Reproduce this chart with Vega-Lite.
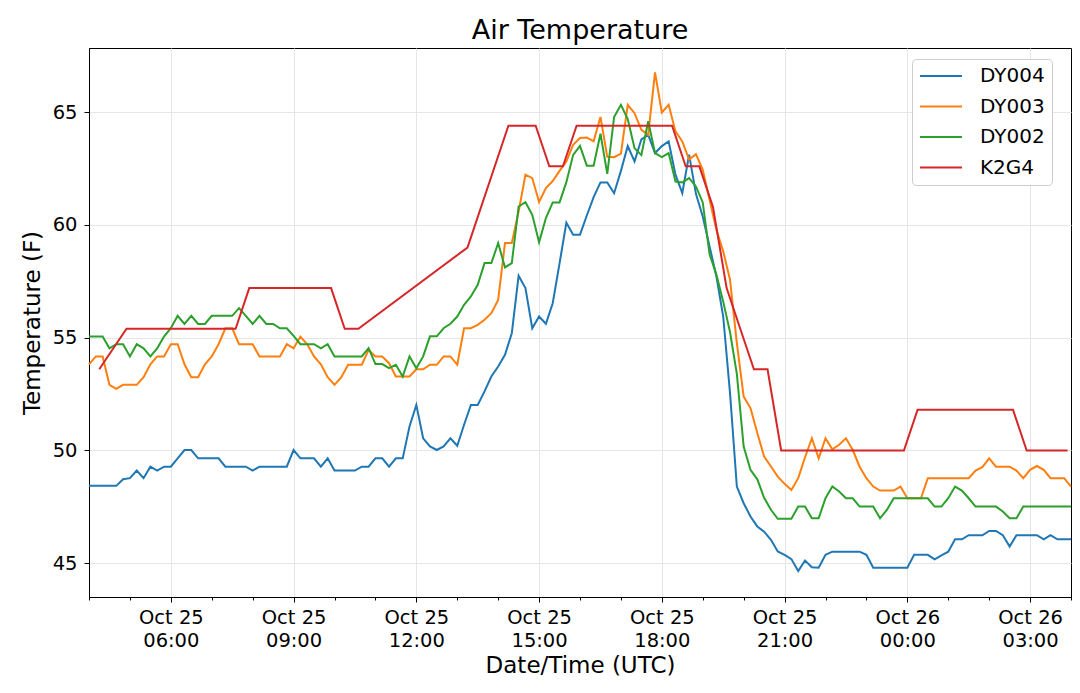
{
  "$schema": "https://vega.github.io/schema/vega-lite/v6.json",
  "width": 982,
  "height": 549,
  "autosize": {"type": "none"},
  "padding": {"left": 89, "top": 48, "right": 9, "bottom": 96},
  "background": "white",
  "title": {
    "text": "Air Temperature",
    "font": "DejaVu Sans",
    "fontSize": 27,
    "fontWeight": "normal",
    "color": "black",
    "anchor": "middle",
    "offset": 3
  },
  "config": {
    "view": {"stroke": "black", "strokeWidth": 1},
    "font": "DejaVu Sans",
    "axis": {
      "labelFont": "DejaVu Sans",
      "titleFont": "DejaVu Sans",
      "labelColor": "black",
      "titleColor": "black",
      "titleFontWeight": "normal",
      "domainColor": "black",
      "tickColor": "black",
      "gridColor": "#e6e6e6",
      "gridWidth": 1
    }
  },
  "data": {
    "values": [
      {"s": "DY004", "t": "2019-10-25T04:00:00Z", "v": 48.43},
      {"s": "DY004", "t": "2019-10-25T04:10:00Z", "v": 48.43},
      {"s": "DY004", "t": "2019-10-25T04:20:00Z", "v": 48.43},
      {"s": "DY004", "t": "2019-10-25T04:30:00Z", "v": 48.43},
      {"s": "DY004", "t": "2019-10-25T04:40:00Z", "v": 48.43},
      {"s": "DY004", "t": "2019-10-25T04:50:00Z", "v": 48.72},
      {"s": "DY004", "t": "2019-10-25T05:00:00Z", "v": 48.77},
      {"s": "DY004", "t": "2019-10-25T05:10:00Z", "v": 49.11},
      {"s": "DY004", "t": "2019-10-25T05:20:00Z", "v": 48.77},
      {"s": "DY004", "t": "2019-10-25T05:30:00Z", "v": 49.28},
      {"s": "DY004", "t": "2019-10-25T05:40:00Z", "v": 49.11},
      {"s": "DY004", "t": "2019-10-25T05:50:00Z", "v": 49.28},
      {"s": "DY004", "t": "2019-10-25T06:00:00Z", "v": 49.28},
      {"s": "DY004", "t": "2019-10-25T06:10:00Z", "v": 49.65},
      {"s": "DY004", "t": "2019-10-25T06:20:00Z", "v": 50.02},
      {"s": "DY004", "t": "2019-10-25T06:30:00Z", "v": 50.02},
      {"s": "DY004", "t": "2019-10-25T06:40:00Z", "v": 49.65},
      {"s": "DY004", "t": "2019-10-25T06:50:00Z", "v": 49.65},
      {"s": "DY004", "t": "2019-10-25T07:00:00Z", "v": 49.65},
      {"s": "DY004", "t": "2019-10-25T07:10:00Z", "v": 49.65},
      {"s": "DY004", "t": "2019-10-25T07:20:00Z", "v": 49.28},
      {"s": "DY004", "t": "2019-10-25T07:30:00Z", "v": 49.28},
      {"s": "DY004", "t": "2019-10-25T07:40:00Z", "v": 49.28},
      {"s": "DY004", "t": "2019-10-25T07:50:00Z", "v": 49.28},
      {"s": "DY004", "t": "2019-10-25T08:00:00Z", "v": 49.11},
      {"s": "DY004", "t": "2019-10-25T08:10:00Z", "v": 49.28},
      {"s": "DY004", "t": "2019-10-25T08:20:00Z", "v": 49.28},
      {"s": "DY004", "t": "2019-10-25T08:30:00Z", "v": 49.28},
      {"s": "DY004", "t": "2019-10-25T08:40:00Z", "v": 49.28},
      {"s": "DY004", "t": "2019-10-25T08:50:00Z", "v": 49.28},
      {"s": "DY004", "t": "2019-10-25T09:00:00Z", "v": 50.02},
      {"s": "DY004", "t": "2019-10-25T09:10:00Z", "v": 49.65},
      {"s": "DY004", "t": "2019-10-25T09:20:00Z", "v": 49.65},
      {"s": "DY004", "t": "2019-10-25T09:30:00Z", "v": 49.65},
      {"s": "DY004", "t": "2019-10-25T09:40:00Z", "v": 49.28},
      {"s": "DY004", "t": "2019-10-25T09:50:00Z", "v": 49.65},
      {"s": "DY004", "t": "2019-10-25T10:00:00Z", "v": 49.11},
      {"s": "DY004", "t": "2019-10-25T10:10:00Z", "v": 49.11},
      {"s": "DY004", "t": "2019-10-25T10:20:00Z", "v": 49.11},
      {"s": "DY004", "t": "2019-10-25T10:30:00Z", "v": 49.11},
      {"s": "DY004", "t": "2019-10-25T10:40:00Z", "v": 49.28},
      {"s": "DY004", "t": "2019-10-25T10:50:00Z", "v": 49.28},
      {"s": "DY004", "t": "2019-10-25T11:00:00Z", "v": 49.65},
      {"s": "DY004", "t": "2019-10-25T11:10:00Z", "v": 49.65},
      {"s": "DY004", "t": "2019-10-25T11:20:00Z", "v": 49.28},
      {"s": "DY004", "t": "2019-10-25T11:30:00Z", "v": 49.65},
      {"s": "DY004", "t": "2019-10-25T11:40:00Z", "v": 49.65},
      {"s": "DY004", "t": "2019-10-25T11:50:00Z", "v": 51.06},
      {"s": "DY004", "t": "2019-10-25T12:00:00Z", "v": 52.02},
      {"s": "DY004", "t": "2019-10-25T12:10:00Z", "v": 50.54},
      {"s": "DY004", "t": "2019-10-25T12:20:00Z", "v": 50.18},
      {"s": "DY004", "t": "2019-10-25T12:30:00Z", "v": 50.02},
      {"s": "DY004", "t": "2019-10-25T12:40:00Z", "v": 50.18},
      {"s": "DY004", "t": "2019-10-25T12:50:00Z", "v": 50.54},
      {"s": "DY004", "t": "2019-10-25T13:00:00Z", "v": 50.21},
      {"s": "DY004", "t": "2019-10-25T13:10:00Z", "v": 51.14},
      {"s": "DY004", "t": "2019-10-25T13:20:00Z", "v": 52.02},
      {"s": "DY004", "t": "2019-10-25T13:30:00Z", "v": 52.02},
      {"s": "DY004", "t": "2019-10-25T13:40:00Z", "v": 52.62},
      {"s": "DY004", "t": "2019-10-25T13:50:00Z", "v": 53.28},
      {"s": "DY004", "t": "2019-10-25T14:00:00Z", "v": 53.72},
      {"s": "DY004", "t": "2019-10-25T14:10:00Z", "v": 54.24},
      {"s": "DY004", "t": "2019-10-25T14:20:00Z", "v": 55.2},
      {"s": "DY004", "t": "2019-10-25T14:30:00Z", "v": 57.75},
      {"s": "DY004", "t": "2019-10-25T14:40:00Z", "v": 57.2},
      {"s": "DY004", "t": "2019-10-25T14:50:00Z", "v": 55.42},
      {"s": "DY004", "t": "2019-10-25T15:00:00Z", "v": 55.94},
      {"s": "DY004", "t": "2019-10-25T15:10:00Z", "v": 55.62},
      {"s": "DY004", "t": "2019-10-25T15:20:00Z", "v": 56.53},
      {"s": "DY004", "t": "2019-10-25T15:30:00Z", "v": 58.3},
      {"s": "DY004", "t": "2019-10-25T15:40:00Z", "v": 60.1},
      {"s": "DY004", "t": "2019-10-25T15:50:00Z", "v": 59.57},
      {"s": "DY004", "t": "2019-10-25T16:00:00Z", "v": 59.57},
      {"s": "DY004", "t": "2019-10-25T16:10:00Z", "v": 60.42},
      {"s": "DY004", "t": "2019-10-25T16:20:00Z", "v": 61.24},
      {"s": "DY004", "t": "2019-10-25T16:30:00Z", "v": 61.89},
      {"s": "DY004", "t": "2019-10-25T16:40:00Z", "v": 61.89},
      {"s": "DY004", "t": "2019-10-25T16:50:00Z", "v": 61.41},
      {"s": "DY004", "t": "2019-10-25T17:00:00Z", "v": 62.4},
      {"s": "DY004", "t": "2019-10-25T17:10:00Z", "v": 63.5},
      {"s": "DY004", "t": "2019-10-25T17:20:00Z", "v": 62.82},
      {"s": "DY004", "t": "2019-10-25T17:30:00Z", "v": 63.8},
      {"s": "DY004", "t": "2019-10-25T17:40:00Z", "v": 64.0},
      {"s": "DY004", "t": "2019-10-25T17:50:00Z", "v": 63.19},
      {"s": "DY004", "t": "2019-10-25T18:00:00Z", "v": 63.5},
      {"s": "DY004", "t": "2019-10-25T18:10:00Z", "v": 63.71},
      {"s": "DY004", "t": "2019-10-25T18:20:00Z", "v": 62.23},
      {"s": "DY004", "t": "2019-10-25T18:30:00Z", "v": 61.41},
      {"s": "DY004", "t": "2019-10-25T18:40:00Z", "v": 63.12},
      {"s": "DY004", "t": "2019-10-25T18:50:00Z", "v": 61.38},
      {"s": "DY004", "t": "2019-10-25T19:00:00Z", "v": 60.38},
      {"s": "DY004", "t": "2019-10-25T19:10:00Z", "v": 59.05},
      {"s": "DY004", "t": "2019-10-25T19:20:00Z", "v": 57.72},
      {"s": "DY004", "t": "2019-10-25T19:30:00Z", "v": 55.94},
      {"s": "DY004", "t": "2019-10-25T19:40:00Z", "v": 52.54},
      {"s": "DY004", "t": "2019-10-25T19:50:00Z", "v": 48.4},
      {"s": "DY004", "t": "2019-10-25T20:00:00Z", "v": 47.66},
      {"s": "DY004", "t": "2019-10-25T20:10:00Z", "v": 47.07},
      {"s": "DY004", "t": "2019-10-25T20:20:00Z", "v": 46.63},
      {"s": "DY004", "t": "2019-10-25T20:30:00Z", "v": 46.4},
      {"s": "DY004", "t": "2019-10-25T20:40:00Z", "v": 46.04},
      {"s": "DY004", "t": "2019-10-25T20:50:00Z", "v": 45.52},
      {"s": "DY004", "t": "2019-10-25T21:00:00Z", "v": 45.37},
      {"s": "DY004", "t": "2019-10-25T21:10:00Z", "v": 45.18},
      {"s": "DY004", "t": "2019-10-25T21:20:00Z", "v": 44.65},
      {"s": "DY004", "t": "2019-10-25T21:30:00Z", "v": 45.12},
      {"s": "DY004", "t": "2019-10-25T21:40:00Z", "v": 44.82},
      {"s": "DY004", "t": "2019-10-25T21:50:00Z", "v": 44.8},
      {"s": "DY004", "t": "2019-10-25T22:00:00Z", "v": 45.37},
      {"s": "DY004", "t": "2019-10-25T22:10:00Z", "v": 45.51},
      {"s": "DY004", "t": "2019-10-25T22:20:00Z", "v": 45.51},
      {"s": "DY004", "t": "2019-10-25T22:30:00Z", "v": 45.51},
      {"s": "DY004", "t": "2019-10-25T22:40:00Z", "v": 45.51},
      {"s": "DY004", "t": "2019-10-25T22:50:00Z", "v": 45.51},
      {"s": "DY004", "t": "2019-10-25T23:00:00Z", "v": 45.37},
      {"s": "DY004", "t": "2019-10-25T23:10:00Z", "v": 44.8},
      {"s": "DY004", "t": "2019-10-25T23:20:00Z", "v": 44.8},
      {"s": "DY004", "t": "2019-10-25T23:30:00Z", "v": 44.8},
      {"s": "DY004", "t": "2019-10-25T23:40:00Z", "v": 44.8},
      {"s": "DY004", "t": "2019-10-25T23:50:00Z", "v": 44.8},
      {"s": "DY004", "t": "2019-10-26T00:00:00Z", "v": 44.8},
      {"s": "DY004", "t": "2019-10-26T00:10:00Z", "v": 45.37},
      {"s": "DY004", "t": "2019-10-26T00:20:00Z", "v": 45.37},
      {"s": "DY004", "t": "2019-10-26T00:30:00Z", "v": 45.37},
      {"s": "DY004", "t": "2019-10-26T00:40:00Z", "v": 45.17},
      {"s": "DY004", "t": "2019-10-26T00:50:00Z", "v": 45.35},
      {"s": "DY004", "t": "2019-10-26T01:00:00Z", "v": 45.51},
      {"s": "DY004", "t": "2019-10-26T01:10:00Z", "v": 46.06},
      {"s": "DY004", "t": "2019-10-26T01:20:00Z", "v": 46.06},
      {"s": "DY004", "t": "2019-10-26T01:30:00Z", "v": 46.24},
      {"s": "DY004", "t": "2019-10-26T01:40:00Z", "v": 46.24},
      {"s": "DY004", "t": "2019-10-26T01:50:00Z", "v": 46.24},
      {"s": "DY004", "t": "2019-10-26T02:00:00Z", "v": 46.43},
      {"s": "DY004", "t": "2019-10-26T02:10:00Z", "v": 46.43},
      {"s": "DY004", "t": "2019-10-26T02:20:00Z", "v": 46.24},
      {"s": "DY004", "t": "2019-10-26T02:30:00Z", "v": 45.74},
      {"s": "DY004", "t": "2019-10-26T02:40:00Z", "v": 46.24},
      {"s": "DY004", "t": "2019-10-26T02:50:00Z", "v": 46.24},
      {"s": "DY004", "t": "2019-10-26T03:00:00Z", "v": 46.24},
      {"s": "DY004", "t": "2019-10-26T03:10:00Z", "v": 46.24},
      {"s": "DY004", "t": "2019-10-26T03:20:00Z", "v": 46.06},
      {"s": "DY004", "t": "2019-10-26T03:30:00Z", "v": 46.24},
      {"s": "DY004", "t": "2019-10-26T03:40:00Z", "v": 46.06},
      {"s": "DY004", "t": "2019-10-26T03:50:00Z", "v": 46.06},
      {"s": "DY004", "t": "2019-10-26T04:00:00Z", "v": 46.06},
      {"s": "DY003", "t": "2019-10-25T04:00:00Z", "v": 53.82},
      {"s": "DY003", "t": "2019-10-25T04:10:00Z", "v": 54.17},
      {"s": "DY003", "t": "2019-10-25T04:20:00Z", "v": 54.17},
      {"s": "DY003", "t": "2019-10-25T04:30:00Z", "v": 52.91},
      {"s": "DY003", "t": "2019-10-25T04:40:00Z", "v": 52.73},
      {"s": "DY003", "t": "2019-10-25T04:50:00Z", "v": 52.91},
      {"s": "DY003", "t": "2019-10-25T05:00:00Z", "v": 52.91},
      {"s": "DY003", "t": "2019-10-25T05:10:00Z", "v": 52.91},
      {"s": "DY003", "t": "2019-10-25T05:20:00Z", "v": 53.25},
      {"s": "DY003", "t": "2019-10-25T05:30:00Z", "v": 53.82},
      {"s": "DY003", "t": "2019-10-25T05:40:00Z", "v": 54.17},
      {"s": "DY003", "t": "2019-10-25T05:50:00Z", "v": 54.17},
      {"s": "DY003", "t": "2019-10-25T06:00:00Z", "v": 54.71},
      {"s": "DY003", "t": "2019-10-25T06:10:00Z", "v": 54.71},
      {"s": "DY003", "t": "2019-10-25T06:20:00Z", "v": 53.82},
      {"s": "DY003", "t": "2019-10-25T06:30:00Z", "v": 53.25},
      {"s": "DY003", "t": "2019-10-25T06:40:00Z", "v": 53.25},
      {"s": "DY003", "t": "2019-10-25T06:50:00Z", "v": 53.82},
      {"s": "DY003", "t": "2019-10-25T07:00:00Z", "v": 54.17},
      {"s": "DY003", "t": "2019-10-25T07:10:00Z", "v": 54.71},
      {"s": "DY003", "t": "2019-10-25T07:20:00Z", "v": 55.42},
      {"s": "DY003", "t": "2019-10-25T07:30:00Z", "v": 55.42},
      {"s": "DY003", "t": "2019-10-25T07:40:00Z", "v": 54.71},
      {"s": "DY003", "t": "2019-10-25T07:50:00Z", "v": 54.71},
      {"s": "DY003", "t": "2019-10-25T08:00:00Z", "v": 54.71},
      {"s": "DY003", "t": "2019-10-25T08:10:00Z", "v": 54.17},
      {"s": "DY003", "t": "2019-10-25T08:20:00Z", "v": 54.17},
      {"s": "DY003", "t": "2019-10-25T08:30:00Z", "v": 54.17},
      {"s": "DY003", "t": "2019-10-25T08:40:00Z", "v": 54.17},
      {"s": "DY003", "t": "2019-10-25T08:50:00Z", "v": 54.71},
      {"s": "DY003", "t": "2019-10-25T09:00:00Z", "v": 54.53},
      {"s": "DY003", "t": "2019-10-25T09:10:00Z", "v": 55.05},
      {"s": "DY003", "t": "2019-10-25T09:20:00Z", "v": 54.71},
      {"s": "DY003", "t": "2019-10-25T09:30:00Z", "v": 54.17},
      {"s": "DY003", "t": "2019-10-25T09:40:00Z", "v": 53.82},
      {"s": "DY003", "t": "2019-10-25T09:50:00Z", "v": 53.25},
      {"s": "DY003", "t": "2019-10-25T10:00:00Z", "v": 52.91},
      {"s": "DY003", "t": "2019-10-25T10:10:00Z", "v": 53.25},
      {"s": "DY003", "t": "2019-10-25T10:20:00Z", "v": 53.8},
      {"s": "DY003", "t": "2019-10-25T10:30:00Z", "v": 53.8},
      {"s": "DY003", "t": "2019-10-25T10:40:00Z", "v": 53.8},
      {"s": "DY003", "t": "2019-10-25T10:50:00Z", "v": 54.46},
      {"s": "DY003", "t": "2019-10-25T11:00:00Z", "v": 54.17},
      {"s": "DY003", "t": "2019-10-25T11:10:00Z", "v": 54.17},
      {"s": "DY003", "t": "2019-10-25T11:20:00Z", "v": 53.87},
      {"s": "DY003", "t": "2019-10-25T11:30:00Z", "v": 53.28},
      {"s": "DY003", "t": "2019-10-25T11:40:00Z", "v": 53.28},
      {"s": "DY003", "t": "2019-10-25T11:50:00Z", "v": 53.28},
      {"s": "DY003", "t": "2019-10-25T12:00:00Z", "v": 53.6},
      {"s": "DY003", "t": "2019-10-25T12:10:00Z", "v": 53.6},
      {"s": "DY003", "t": "2019-10-25T12:20:00Z", "v": 53.8},
      {"s": "DY003", "t": "2019-10-25T12:30:00Z", "v": 53.8},
      {"s": "DY003", "t": "2019-10-25T12:40:00Z", "v": 54.17},
      {"s": "DY003", "t": "2019-10-25T12:50:00Z", "v": 54.17},
      {"s": "DY003", "t": "2019-10-25T13:00:00Z", "v": 53.8},
      {"s": "DY003", "t": "2019-10-25T13:10:00Z", "v": 55.42},
      {"s": "DY003", "t": "2019-10-25T13:20:00Z", "v": 55.42},
      {"s": "DY003", "t": "2019-10-25T13:30:00Z", "v": 55.57},
      {"s": "DY003", "t": "2019-10-25T13:40:00Z", "v": 55.8},
      {"s": "DY003", "t": "2019-10-25T13:50:00Z", "v": 56.09},
      {"s": "DY003", "t": "2019-10-25T14:00:00Z", "v": 56.68},
      {"s": "DY003", "t": "2019-10-25T14:10:00Z", "v": 59.2},
      {"s": "DY003", "t": "2019-10-25T14:20:00Z", "v": 59.2},
      {"s": "DY003", "t": "2019-10-25T14:30:00Z", "v": 60.6},
      {"s": "DY003", "t": "2019-10-25T14:40:00Z", "v": 62.23},
      {"s": "DY003", "t": "2019-10-25T14:50:00Z", "v": 62.08},
      {"s": "DY003", "t": "2019-10-25T15:00:00Z", "v": 61.02},
      {"s": "DY003", "t": "2019-10-25T15:10:00Z", "v": 61.64},
      {"s": "DY003", "t": "2019-10-25T15:20:00Z", "v": 61.95},
      {"s": "DY003", "t": "2019-10-25T15:30:00Z", "v": 62.4},
      {"s": "DY003", "t": "2019-10-25T15:40:00Z", "v": 62.82},
      {"s": "DY003", "t": "2019-10-25T15:50:00Z", "v": 63.56},
      {"s": "DY003", "t": "2019-10-25T16:00:00Z", "v": 63.86},
      {"s": "DY003", "t": "2019-10-25T16:10:00Z", "v": 63.88},
      {"s": "DY003", "t": "2019-10-25T16:20:00Z", "v": 63.71},
      {"s": "DY003", "t": "2019-10-25T16:30:00Z", "v": 64.79},
      {"s": "DY003", "t": "2019-10-25T16:40:00Z", "v": 63.02},
      {"s": "DY003", "t": "2019-10-25T16:50:00Z", "v": 63.01},
      {"s": "DY003", "t": "2019-10-25T17:00:00Z", "v": 63.17},
      {"s": "DY003", "t": "2019-10-25T17:10:00Z", "v": 65.33},
      {"s": "DY003", "t": "2019-10-25T17:20:00Z", "v": 64.96},
      {"s": "DY003", "t": "2019-10-25T17:30:00Z", "v": 64.22},
      {"s": "DY003", "t": "2019-10-25T17:40:00Z", "v": 64.0},
      {"s": "DY003", "t": "2019-10-25T17:50:00Z", "v": 66.77},
      {"s": "DY003", "t": "2019-10-25T18:00:00Z", "v": 64.99},
      {"s": "DY003", "t": "2019-10-25T18:10:00Z", "v": 65.33},
      {"s": "DY003", "t": "2019-10-25T18:20:00Z", "v": 64.15},
      {"s": "DY003", "t": "2019-10-25T18:30:00Z", "v": 63.71},
      {"s": "DY003", "t": "2019-10-25T18:40:00Z", "v": 62.9},
      {"s": "DY003", "t": "2019-10-25T18:50:00Z", "v": 63.14},
      {"s": "DY003", "t": "2019-10-25T19:00:00Z", "v": 62.45},
      {"s": "DY003", "t": "2019-10-25T19:10:00Z", "v": 61.12},
      {"s": "DY003", "t": "2019-10-25T19:20:00Z", "v": 59.79},
      {"s": "DY003", "t": "2019-10-25T19:30:00Z", "v": 58.83},
      {"s": "DY003", "t": "2019-10-25T19:40:00Z", "v": 57.57},
      {"s": "DY003", "t": "2019-10-25T19:50:00Z", "v": 54.76},
      {"s": "DY003", "t": "2019-10-25T20:00:00Z", "v": 52.39},
      {"s": "DY003", "t": "2019-10-25T20:10:00Z", "v": 51.88},
      {"s": "DY003", "t": "2019-10-25T20:20:00Z", "v": 50.77},
      {"s": "DY003", "t": "2019-10-25T20:30:00Z", "v": 49.73},
      {"s": "DY003", "t": "2019-10-25T20:40:00Z", "v": 49.29},
      {"s": "DY003", "t": "2019-10-25T20:50:00Z", "v": 48.84},
      {"s": "DY003", "t": "2019-10-25T21:00:00Z", "v": 48.52},
      {"s": "DY003", "t": "2019-10-25T21:10:00Z", "v": 48.25},
      {"s": "DY003", "t": "2019-10-25T21:20:00Z", "v": 48.77},
      {"s": "DY003", "t": "2019-10-25T21:30:00Z", "v": 49.7},
      {"s": "DY003", "t": "2019-10-25T21:40:00Z", "v": 50.54},
      {"s": "DY003", "t": "2019-10-25T21:50:00Z", "v": 49.65},
      {"s": "DY003", "t": "2019-10-25T22:00:00Z", "v": 50.54},
      {"s": "DY003", "t": "2019-10-25T22:10:00Z", "v": 50.05},
      {"s": "DY003", "t": "2019-10-25T22:20:00Z", "v": 50.25},
      {"s": "DY003", "t": "2019-10-25T22:30:00Z", "v": 50.54},
      {"s": "DY003", "t": "2019-10-25T22:40:00Z", "v": 50.02},
      {"s": "DY003", "t": "2019-10-25T22:50:00Z", "v": 49.28},
      {"s": "DY003", "t": "2019-10-25T23:00:00Z", "v": 48.77},
      {"s": "DY003", "t": "2019-10-25T23:10:00Z", "v": 48.4},
      {"s": "DY003", "t": "2019-10-25T23:20:00Z", "v": 48.22},
      {"s": "DY003", "t": "2019-10-25T23:30:00Z", "v": 48.22},
      {"s": "DY003", "t": "2019-10-25T23:40:00Z", "v": 48.22},
      {"s": "DY003", "t": "2019-10-25T23:50:00Z", "v": 48.4},
      {"s": "DY003", "t": "2019-10-26T00:00:00Z", "v": 47.88},
      {"s": "DY003", "t": "2019-10-26T00:10:00Z", "v": 47.88},
      {"s": "DY003", "t": "2019-10-26T00:20:00Z", "v": 47.88},
      {"s": "DY003", "t": "2019-10-26T00:30:00Z", "v": 48.77},
      {"s": "DY003", "t": "2019-10-26T00:40:00Z", "v": 48.77},
      {"s": "DY003", "t": "2019-10-26T00:50:00Z", "v": 48.77},
      {"s": "DY003", "t": "2019-10-26T01:00:00Z", "v": 48.77},
      {"s": "DY003", "t": "2019-10-26T01:10:00Z", "v": 48.77},
      {"s": "DY003", "t": "2019-10-26T01:20:00Z", "v": 48.77},
      {"s": "DY003", "t": "2019-10-26T01:30:00Z", "v": 48.77},
      {"s": "DY003", "t": "2019-10-26T01:40:00Z", "v": 49.11},
      {"s": "DY003", "t": "2019-10-26T01:50:00Z", "v": 49.26},
      {"s": "DY003", "t": "2019-10-26T02:00:00Z", "v": 49.65},
      {"s": "DY003", "t": "2019-10-26T02:10:00Z", "v": 49.28},
      {"s": "DY003", "t": "2019-10-26T02:20:00Z", "v": 49.28},
      {"s": "DY003", "t": "2019-10-26T02:30:00Z", "v": 49.28},
      {"s": "DY003", "t": "2019-10-26T02:40:00Z", "v": 49.11},
      {"s": "DY003", "t": "2019-10-26T02:50:00Z", "v": 48.77},
      {"s": "DY003", "t": "2019-10-26T03:00:00Z", "v": 49.14},
      {"s": "DY003", "t": "2019-10-26T03:10:00Z", "v": 49.31},
      {"s": "DY003", "t": "2019-10-26T03:20:00Z", "v": 49.14},
      {"s": "DY003", "t": "2019-10-26T03:30:00Z", "v": 48.77},
      {"s": "DY003", "t": "2019-10-26T03:40:00Z", "v": 48.77},
      {"s": "DY003", "t": "2019-10-26T03:50:00Z", "v": 48.77},
      {"s": "DY003", "t": "2019-10-26T04:00:00Z", "v": 48.4},
      {"s": "DY002", "t": "2019-10-25T04:00:00Z", "v": 55.05},
      {"s": "DY002", "t": "2019-10-25T04:10:00Z", "v": 55.05},
      {"s": "DY002", "t": "2019-10-25T04:20:00Z", "v": 55.05},
      {"s": "DY002", "t": "2019-10-25T04:30:00Z", "v": 54.53},
      {"s": "DY002", "t": "2019-10-25T04:40:00Z", "v": 54.71},
      {"s": "DY002", "t": "2019-10-25T04:50:00Z", "v": 54.71},
      {"s": "DY002", "t": "2019-10-25T05:00:00Z", "v": 54.17},
      {"s": "DY002", "t": "2019-10-25T05:10:00Z", "v": 54.71},
      {"s": "DY002", "t": "2019-10-25T05:20:00Z", "v": 54.53},
      {"s": "DY002", "t": "2019-10-25T05:30:00Z", "v": 54.17},
      {"s": "DY002", "t": "2019-10-25T05:40:00Z", "v": 54.53},
      {"s": "DY002", "t": "2019-10-25T05:50:00Z", "v": 55.05},
      {"s": "DY002", "t": "2019-10-25T06:00:00Z", "v": 55.42},
      {"s": "DY002", "t": "2019-10-25T06:10:00Z", "v": 55.97},
      {"s": "DY002", "t": "2019-10-25T06:20:00Z", "v": 55.61},
      {"s": "DY002", "t": "2019-10-25T06:30:00Z", "v": 55.97},
      {"s": "DY002", "t": "2019-10-25T06:40:00Z", "v": 55.61},
      {"s": "DY002", "t": "2019-10-25T06:50:00Z", "v": 55.61},
      {"s": "DY002", "t": "2019-10-25T07:00:00Z", "v": 55.97},
      {"s": "DY002", "t": "2019-10-25T07:10:00Z", "v": 55.97},
      {"s": "DY002", "t": "2019-10-25T07:20:00Z", "v": 55.97},
      {"s": "DY002", "t": "2019-10-25T07:30:00Z", "v": 55.97},
      {"s": "DY002", "t": "2019-10-25T07:40:00Z", "v": 56.31},
      {"s": "DY002", "t": "2019-10-25T07:50:00Z", "v": 55.97},
      {"s": "DY002", "t": "2019-10-25T08:00:00Z", "v": 55.61},
      {"s": "DY002", "t": "2019-10-25T08:10:00Z", "v": 55.97},
      {"s": "DY002", "t": "2019-10-25T08:20:00Z", "v": 55.61},
      {"s": "DY002", "t": "2019-10-25T08:30:00Z", "v": 55.61},
      {"s": "DY002", "t": "2019-10-25T08:40:00Z", "v": 55.42},
      {"s": "DY002", "t": "2019-10-25T08:50:00Z", "v": 55.42},
      {"s": "DY002", "t": "2019-10-25T09:00:00Z", "v": 55.08},
      {"s": "DY002", "t": "2019-10-25T09:10:00Z", "v": 54.71},
      {"s": "DY002", "t": "2019-10-25T09:20:00Z", "v": 54.71},
      {"s": "DY002", "t": "2019-10-25T09:30:00Z", "v": 54.71},
      {"s": "DY002", "t": "2019-10-25T09:40:00Z", "v": 54.53},
      {"s": "DY002", "t": "2019-10-25T09:50:00Z", "v": 54.71},
      {"s": "DY002", "t": "2019-10-25T10:00:00Z", "v": 54.17},
      {"s": "DY002", "t": "2019-10-25T10:10:00Z", "v": 54.17},
      {"s": "DY002", "t": "2019-10-25T10:20:00Z", "v": 54.17},
      {"s": "DY002", "t": "2019-10-25T10:30:00Z", "v": 54.17},
      {"s": "DY002", "t": "2019-10-25T10:40:00Z", "v": 54.17},
      {"s": "DY002", "t": "2019-10-25T10:50:00Z", "v": 54.54},
      {"s": "DY002", "t": "2019-10-25T11:00:00Z", "v": 53.83},
      {"s": "DY002", "t": "2019-10-25T11:10:00Z", "v": 53.83},
      {"s": "DY002", "t": "2019-10-25T11:20:00Z", "v": 53.65},
      {"s": "DY002", "t": "2019-10-25T11:30:00Z", "v": 53.8},
      {"s": "DY002", "t": "2019-10-25T11:40:00Z", "v": 53.28},
      {"s": "DY002", "t": "2019-10-25T11:50:00Z", "v": 54.17},
      {"s": "DY002", "t": "2019-10-25T12:00:00Z", "v": 53.65},
      {"s": "DY002", "t": "2019-10-25T12:10:00Z", "v": 54.17},
      {"s": "DY002", "t": "2019-10-25T12:20:00Z", "v": 55.06},
      {"s": "DY002", "t": "2019-10-25T12:30:00Z", "v": 55.06},
      {"s": "DY002", "t": "2019-10-25T12:40:00Z", "v": 55.42},
      {"s": "DY002", "t": "2019-10-25T12:50:00Z", "v": 55.62},
      {"s": "DY002", "t": "2019-10-25T13:00:00Z", "v": 55.94},
      {"s": "DY002", "t": "2019-10-25T13:10:00Z", "v": 56.46},
      {"s": "DY002", "t": "2019-10-25T13:20:00Z", "v": 56.83},
      {"s": "DY002", "t": "2019-10-25T13:30:00Z", "v": 57.35},
      {"s": "DY002", "t": "2019-10-25T13:40:00Z", "v": 58.31},
      {"s": "DY002", "t": "2019-10-25T13:50:00Z", "v": 58.31},
      {"s": "DY002", "t": "2019-10-25T14:00:00Z", "v": 59.2},
      {"s": "DY002", "t": "2019-10-25T14:10:00Z", "v": 58.12},
      {"s": "DY002", "t": "2019-10-25T14:20:00Z", "v": 58.31},
      {"s": "DY002", "t": "2019-10-25T14:30:00Z", "v": 60.82},
      {"s": "DY002", "t": "2019-10-25T14:40:00Z", "v": 61.01},
      {"s": "DY002", "t": "2019-10-25T14:50:00Z", "v": 60.45},
      {"s": "DY002", "t": "2019-10-25T15:00:00Z", "v": 59.23},
      {"s": "DY002", "t": "2019-10-25T15:10:00Z", "v": 60.31},
      {"s": "DY002", "t": "2019-10-25T15:20:00Z", "v": 61.0},
      {"s": "DY002", "t": "2019-10-25T15:30:00Z", "v": 61.0},
      {"s": "DY002", "t": "2019-10-25T15:40:00Z", "v": 61.9},
      {"s": "DY002", "t": "2019-10-25T15:50:00Z", "v": 63.11},
      {"s": "DY002", "t": "2019-10-25T16:00:00Z", "v": 63.51},
      {"s": "DY002", "t": "2019-10-25T16:10:00Z", "v": 62.63},
      {"s": "DY002", "t": "2019-10-25T16:20:00Z", "v": 62.63},
      {"s": "DY002", "t": "2019-10-25T16:30:00Z", "v": 64.05},
      {"s": "DY002", "t": "2019-10-25T16:40:00Z", "v": 62.27},
      {"s": "DY002", "t": "2019-10-25T16:50:00Z", "v": 64.79},
      {"s": "DY002", "t": "2019-10-25T17:00:00Z", "v": 65.33},
      {"s": "DY002", "t": "2019-10-25T17:10:00Z", "v": 64.7},
      {"s": "DY002", "t": "2019-10-25T17:20:00Z", "v": 63.4},
      {"s": "DY002", "t": "2019-10-25T17:30:00Z", "v": 63.1},
      {"s": "DY002", "t": "2019-10-25T17:40:00Z", "v": 64.6},
      {"s": "DY002", "t": "2019-10-25T17:50:00Z", "v": 63.19},
      {"s": "DY002", "t": "2019-10-25T18:00:00Z", "v": 63.01},
      {"s": "DY002", "t": "2019-10-25T18:10:00Z", "v": 63.19},
      {"s": "DY002", "t": "2019-10-25T18:20:00Z", "v": 61.93},
      {"s": "DY002", "t": "2019-10-25T18:30:00Z", "v": 61.89},
      {"s": "DY002", "t": "2019-10-25T18:40:00Z", "v": 62.08},
      {"s": "DY002", "t": "2019-10-25T18:50:00Z", "v": 61.71},
      {"s": "DY002", "t": "2019-10-25T19:00:00Z", "v": 61.0},
      {"s": "DY002", "t": "2019-10-25T19:10:00Z", "v": 58.7},
      {"s": "DY002", "t": "2019-10-25T19:20:00Z", "v": 57.8},
      {"s": "DY002", "t": "2019-10-25T19:30:00Z", "v": 56.6},
      {"s": "DY002", "t": "2019-10-25T19:40:00Z", "v": 55.25},
      {"s": "DY002", "t": "2019-10-25T19:50:00Z", "v": 53.4},
      {"s": "DY002", "t": "2019-10-25T20:00:00Z", "v": 50.17},
      {"s": "DY002", "t": "2019-10-25T20:10:00Z", "v": 49.14},
      {"s": "DY002", "t": "2019-10-25T20:20:00Z", "v": 48.72},
      {"s": "DY002", "t": "2019-10-25T20:30:00Z", "v": 47.9},
      {"s": "DY002", "t": "2019-10-25T20:40:00Z", "v": 47.37},
      {"s": "DY002", "t": "2019-10-25T20:50:00Z", "v": 46.97},
      {"s": "DY002", "t": "2019-10-25T21:00:00Z", "v": 46.97},
      {"s": "DY002", "t": "2019-10-25T21:10:00Z", "v": 46.97},
      {"s": "DY002", "t": "2019-10-25T21:20:00Z", "v": 47.51},
      {"s": "DY002", "t": "2019-10-25T21:30:00Z", "v": 47.51},
      {"s": "DY002", "t": "2019-10-25T21:40:00Z", "v": 46.99},
      {"s": "DY002", "t": "2019-10-25T21:50:00Z", "v": 46.99},
      {"s": "DY002", "t": "2019-10-25T22:00:00Z", "v": 47.88},
      {"s": "DY002", "t": "2019-10-25T22:10:00Z", "v": 48.4},
      {"s": "DY002", "t": "2019-10-25T22:20:00Z", "v": 48.18},
      {"s": "DY002", "t": "2019-10-25T22:30:00Z", "v": 47.88},
      {"s": "DY002", "t": "2019-10-25T22:40:00Z", "v": 47.88},
      {"s": "DY002", "t": "2019-10-25T22:50:00Z", "v": 47.51},
      {"s": "DY002", "t": "2019-10-25T23:00:00Z", "v": 47.51},
      {"s": "DY002", "t": "2019-10-25T23:10:00Z", "v": 47.51},
      {"s": "DY002", "t": "2019-10-25T23:20:00Z", "v": 46.99},
      {"s": "DY002", "t": "2019-10-25T23:30:00Z", "v": 47.36},
      {"s": "DY002", "t": "2019-10-25T23:40:00Z", "v": 47.88},
      {"s": "DY002", "t": "2019-10-25T23:50:00Z", "v": 47.88},
      {"s": "DY002", "t": "2019-10-26T00:00:00Z", "v": 47.88},
      {"s": "DY002", "t": "2019-10-26T00:10:00Z", "v": 47.88},
      {"s": "DY002", "t": "2019-10-26T00:20:00Z", "v": 47.88},
      {"s": "DY002", "t": "2019-10-26T00:30:00Z", "v": 47.88},
      {"s": "DY002", "t": "2019-10-26T00:40:00Z", "v": 47.51},
      {"s": "DY002", "t": "2019-10-26T00:50:00Z", "v": 47.51},
      {"s": "DY002", "t": "2019-10-26T01:00:00Z", "v": 47.88},
      {"s": "DY002", "t": "2019-10-26T01:10:00Z", "v": 48.4},
      {"s": "DY002", "t": "2019-10-26T01:20:00Z", "v": 48.22},
      {"s": "DY002", "t": "2019-10-26T01:30:00Z", "v": 47.88},
      {"s": "DY002", "t": "2019-10-26T01:40:00Z", "v": 47.51},
      {"s": "DY002", "t": "2019-10-26T01:50:00Z", "v": 47.51},
      {"s": "DY002", "t": "2019-10-26T02:00:00Z", "v": 47.51},
      {"s": "DY002", "t": "2019-10-26T02:10:00Z", "v": 47.51},
      {"s": "DY002", "t": "2019-10-26T02:20:00Z", "v": 47.29},
      {"s": "DY002", "t": "2019-10-26T02:30:00Z", "v": 46.99},
      {"s": "DY002", "t": "2019-10-26T02:40:00Z", "v": 46.99},
      {"s": "DY002", "t": "2019-10-26T02:50:00Z", "v": 47.51},
      {"s": "DY002", "t": "2019-10-26T03:00:00Z", "v": 47.51},
      {"s": "DY002", "t": "2019-10-26T03:10:00Z", "v": 47.51},
      {"s": "DY002", "t": "2019-10-26T03:20:00Z", "v": 47.51},
      {"s": "DY002", "t": "2019-10-26T03:30:00Z", "v": 47.51},
      {"s": "DY002", "t": "2019-10-26T03:40:00Z", "v": 47.51},
      {"s": "DY002", "t": "2019-10-26T03:50:00Z", "v": 47.51},
      {"s": "DY002", "t": "2019-10-26T04:00:00Z", "v": 47.51},
      {"s": "K2G4", "t": "2019-10-25T04:15:00Z", "v": 53.6},
      {"s": "K2G4", "t": "2019-10-25T04:55:00Z", "v": 55.4},
      {"s": "K2G4", "t": "2019-10-25T05:15:00Z", "v": 55.4},
      {"s": "K2G4", "t": "2019-10-25T05:35:00Z", "v": 55.4},
      {"s": "K2G4", "t": "2019-10-25T05:55:00Z", "v": 55.4},
      {"s": "K2G4", "t": "2019-10-25T06:15:00Z", "v": 55.4},
      {"s": "K2G4", "t": "2019-10-25T06:35:00Z", "v": 55.4},
      {"s": "K2G4", "t": "2019-10-25T06:55:00Z", "v": 55.4},
      {"s": "K2G4", "t": "2019-10-25T07:15:00Z", "v": 55.4},
      {"s": "K2G4", "t": "2019-10-25T07:35:00Z", "v": 55.4},
      {"s": "K2G4", "t": "2019-10-25T07:55:00Z", "v": 57.2},
      {"s": "K2G4", "t": "2019-10-25T08:15:00Z", "v": 57.2},
      {"s": "K2G4", "t": "2019-10-25T08:35:00Z", "v": 57.2},
      {"s": "K2G4", "t": "2019-10-25T08:55:00Z", "v": 57.2},
      {"s": "K2G4", "t": "2019-10-25T09:15:00Z", "v": 57.2},
      {"s": "K2G4", "t": "2019-10-25T09:35:00Z", "v": 57.2},
      {"s": "K2G4", "t": "2019-10-25T09:55:00Z", "v": 57.2},
      {"s": "K2G4", "t": "2019-10-25T10:15:00Z", "v": 55.4},
      {"s": "K2G4", "t": "2019-10-25T10:35:00Z", "v": 55.4},
      {"s": "K2G4", "t": "2019-10-25T13:15:00Z", "v": 59.0},
      {"s": "K2G4", "t": "2019-10-25T14:15:00Z", "v": 64.4},
      {"s": "K2G4", "t": "2019-10-25T14:35:00Z", "v": 64.4},
      {"s": "K2G4", "t": "2019-10-25T14:55:00Z", "v": 64.4},
      {"s": "K2G4", "t": "2019-10-25T15:15:00Z", "v": 62.6},
      {"s": "K2G4", "t": "2019-10-25T15:35:00Z", "v": 62.6},
      {"s": "K2G4", "t": "2019-10-25T15:55:00Z", "v": 64.4},
      {"s": "K2G4", "t": "2019-10-25T16:15:00Z", "v": 64.4},
      {"s": "K2G4", "t": "2019-10-25T16:35:00Z", "v": 64.4},
      {"s": "K2G4", "t": "2019-10-25T16:55:00Z", "v": 64.4},
      {"s": "K2G4", "t": "2019-10-25T17:15:00Z", "v": 64.4},
      {"s": "K2G4", "t": "2019-10-25T17:35:00Z", "v": 64.4},
      {"s": "K2G4", "t": "2019-10-25T17:55:00Z", "v": 64.4},
      {"s": "K2G4", "t": "2019-10-25T18:15:00Z", "v": 64.4},
      {"s": "K2G4", "t": "2019-10-25T18:35:00Z", "v": 62.6},
      {"s": "K2G4", "t": "2019-10-25T18:55:00Z", "v": 62.6},
      {"s": "K2G4", "t": "2019-10-25T19:15:00Z", "v": 60.8},
      {"s": "K2G4", "t": "2019-10-25T19:35:00Z", "v": 57.2},
      {"s": "K2G4", "t": "2019-10-25T19:55:00Z", "v": 55.4},
      {"s": "K2G4", "t": "2019-10-25T20:15:00Z", "v": 53.6},
      {"s": "K2G4", "t": "2019-10-25T20:35:00Z", "v": 53.6},
      {"s": "K2G4", "t": "2019-10-25T20:55:00Z", "v": 50.0},
      {"s": "K2G4", "t": "2019-10-25T21:15:00Z", "v": 50.0},
      {"s": "K2G4", "t": "2019-10-25T21:35:00Z", "v": 50.0},
      {"s": "K2G4", "t": "2019-10-25T21:55:00Z", "v": 50.0},
      {"s": "K2G4", "t": "2019-10-25T22:15:00Z", "v": 50.0},
      {"s": "K2G4", "t": "2019-10-25T22:35:00Z", "v": 50.0},
      {"s": "K2G4", "t": "2019-10-25T22:55:00Z", "v": 50.0},
      {"s": "K2G4", "t": "2019-10-25T23:15:00Z", "v": 50.0},
      {"s": "K2G4", "t": "2019-10-25T23:35:00Z", "v": 50.0},
      {"s": "K2G4", "t": "2019-10-25T23:55:00Z", "v": 50.0},
      {"s": "K2G4", "t": "2019-10-26T00:15:00Z", "v": 51.8},
      {"s": "K2G4", "t": "2019-10-26T00:35:00Z", "v": 51.8},
      {"s": "K2G4", "t": "2019-10-26T00:55:00Z", "v": 51.8},
      {"s": "K2G4", "t": "2019-10-26T01:15:00Z", "v": 51.8},
      {"s": "K2G4", "t": "2019-10-26T01:35:00Z", "v": 51.8},
      {"s": "K2G4", "t": "2019-10-26T01:55:00Z", "v": 51.8},
      {"s": "K2G4", "t": "2019-10-26T02:15:00Z", "v": 51.8},
      {"s": "K2G4", "t": "2019-10-26T02:35:00Z", "v": 51.8},
      {"s": "K2G4", "t": "2019-10-26T02:55:00Z", "v": 50.0},
      {"s": "K2G4", "t": "2019-10-26T03:15:00Z", "v": 50.0},
      {"s": "K2G4", "t": "2019-10-26T03:35:00Z", "v": 50.0},
      {"s": "K2G4", "t": "2019-10-26T03:55:00Z", "v": 50.0}
    ]
  },
  "resolve": {"axis": {"x": "independent"}},
  "layer": [
    {
      "mark": {"type": "line", "strokeWidth": 2},
      "encoding": {
        "x": {
          "field": "t",
          "type": "temporal",
          "title": "Date/Time (UTC)",
          "scale": {
            "type": "utc",
            "nice": false,
            "domain": [1571976000000, 1572062400000]
          },
          "axis": {
            "orient": "bottom",
            "values": [1571983200000, 1571994000000, 1572004800000, 1572015600000, 1572026400000, 1572037200000, 1572048000000, 1572058800000],
            "format": "%b %d",
            "labelOverlap": false,
            "labelFlush": false,
            "labelFontSize": 19.5,
            "labelPadding": 6,
            "tickSize": 5,
            "grid": true,
            "titleFontSize": 23,
            "titlePadding": 28
          }
        },
        "y": {
          "field": "v",
          "type": "quantitative",
          "title": "Temperature (F)",
          "scale": {"domain": [43.5, 67.85], "nice": false, "zero": false},
          "axis": {
            "values": [45, 50, 55, 60, 65],
            "labelFontSize": 19.5,
            "labelPadding": 7,
            "tickSize": 5,
            "titleFontSize": 23,
            "titlePadding": 8
          }
        },
        "color": {
          "field": "s",
          "type": "nominal",
          "scale": {
            "domain": ["DY004", "DY003", "DY002", "K2G4"],
            "range": ["#1f77b4", "#ff7f0e", "#2ca02c", "#d62728"]
          },
          "legend": {
            "title": null,
            "orient": "none",
            "direction": "vertical",
            "legendX": 823,
            "legendY": 11,
            "symbolType": "stroke",
            "symbolSize": 1764,
            "symbolStrokeWidth": 2,
            "clipHeight": 20,
            "labelFontSize": 20,
            "labelColor": "black",
            "labelOffset": 17,
            "rowPadding": 10.5,
            "padding": 7,
            "strokeColor": "#cccccc",
            "fillColor": "white",
            "cornerRadius": 4
          }
        }
      }
    },
    {
      "mark": {"type": "line", "opacity": 0},
      "encoding": {
        "x": {
          "field": "t",
          "type": "temporal",
          "axis": {
            "orient": "bottom",
            "values": [1571976000000, 1571979600000, 1571983200000, 1571986800000, 1571990400000, 1571994000000, 1571997600000, 1572001200000, 1572004800000, 1572008400000, 1572012000000, 1572015600000, 1572019200000, 1572022800000, 1572026400000, 1572030000000, 1572033600000, 1572037200000, 1572040800000, 1572044400000, 1572048000000, 1572051600000, 1572055200000, 1572058800000, 1572062400000],
            "format": "%H:%M",
            "labelFontSize": 19.5,
            "labelPadding": 31,
            "labelOverlap": false,
            "labelFlush": false,
            "labelExpr": "utchours(datum.value) % 3 == 0 ? datum.label : ''",
            "grid": false,
            "domain": false,
            "tickSize": 3,
            "title": null
          }
        },
        "y": {"field": "v", "type": "quantitative"},
        "detail": {"field": "s", "type": "nominal"}
      }
    }
  ]
}
